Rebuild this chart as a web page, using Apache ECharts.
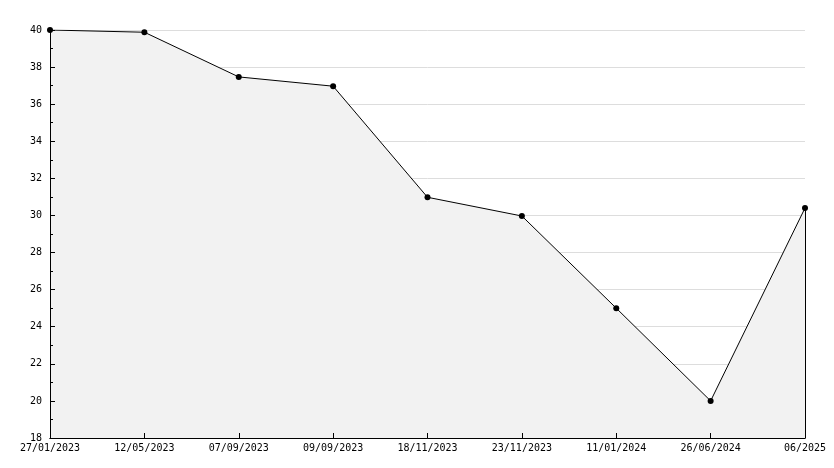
<!DOCTYPE html>
<html>
<head>
<meta charset="utf-8">
<script src="https://cdn.jsdelivr.net/npm/echarts@6/dist/echarts.min.js"></script>
<style>html,body{margin:0;padding:0;background:#fff}#c{width:834px;height:468px}</style>
</head>
<body>
<div id="c"></div>
<script>
var categories = ["27/01/2023","12/05/2023","07/09/2023","09/09/2023","18/11/2023","23/11/2023","11/01/2024","26/06/2024","06/2025"];
var values = [40, 39.88, 37.47, 36.97, 30.98, 29.97, 25.0, 20.0, 30.4];
var yMin = 18, yMax = 40, yStep = 2;

var chart = echarts.init(document.getElementById('c'), null, {renderer:'canvas'});
var font = "DejaVu Sans Mono";
var last = categories.length - 1;
chart.setOption({
  backgroundColor: '#ffffff',
  animation: false,
  grid: {left: 50, right: 29, top: 30, bottom: 30},
  xAxis: [{
    type: 'category',
    data: categories,
    boundaryGap: false,
    axisLine: {lineStyle: {color: '#000', width: 1}},
    axisTick: {show: false},
    axisLabel: {color: '#000', fontFamily: font, fontSize: 10, margin: 5, interval: 0},
    splitLine: {show: false}
  }, {
    type: 'category',
    data: categories,
    position: 'bottom',
    boundaryGap: false,
    z: 10,
    axisLine: {show: true, lineStyle: {color: '#000', width: 1}},
    axisTick: {show: true, inside: true, length: 5, interval: 0, lineStyle: {color: '#000'}},
    axisLabel: {show: false},
    splitLine: {show: false}
  }],
  yAxis: [{
    type: 'value',
    min: yMin, max: yMax, interval: yStep,
    axisLine: {show: true, lineStyle: {color: '#000', width: 1}},
    axisTick: {show: false},
    axisLabel: {color: '#000', fontFamily: font, fontSize: 10, margin: 8},
    splitLine: {show: true, lineStyle: {color: '#dddddd', width: 1}}
  }, {
    type: 'value',
    position: 'left',
    min: yMin, max: yMax, interval: yStep,
    z: 10,
    axisLine: {show: true, lineStyle: {color: '#000', width: 1}},
    axisTick: {show: true, inside: true, length: 5, lineStyle: {color: '#000'}},
    minorTick: {show: true, splitNumber: 2, length: 3, lineStyle: {color: '#000'}},
    axisLabel: {show: false},
    splitLine: {show: false}
  }],
  series: [{
    type: 'line',
    data: values,
    symbol: 'circle',
    symbolSize: 6,
    itemStyle: {color: '#000'},
    lineStyle: {color: '#000', width: 1},
    areaStyle: {color: '#f2f2f2', opacity: 1, origin: 'start'},
    markLine: {
      silent: true,
      symbol: ['none','none'],
      label: {show: false},
      lineStyle: {color: '#000', width: 1, type: 'solid'},
      data: [[{coord: [categories[last], yMin]}, {coord: [categories[last], values[last]]}]]
    }
  }]
});
</script>
</body>
</html>
